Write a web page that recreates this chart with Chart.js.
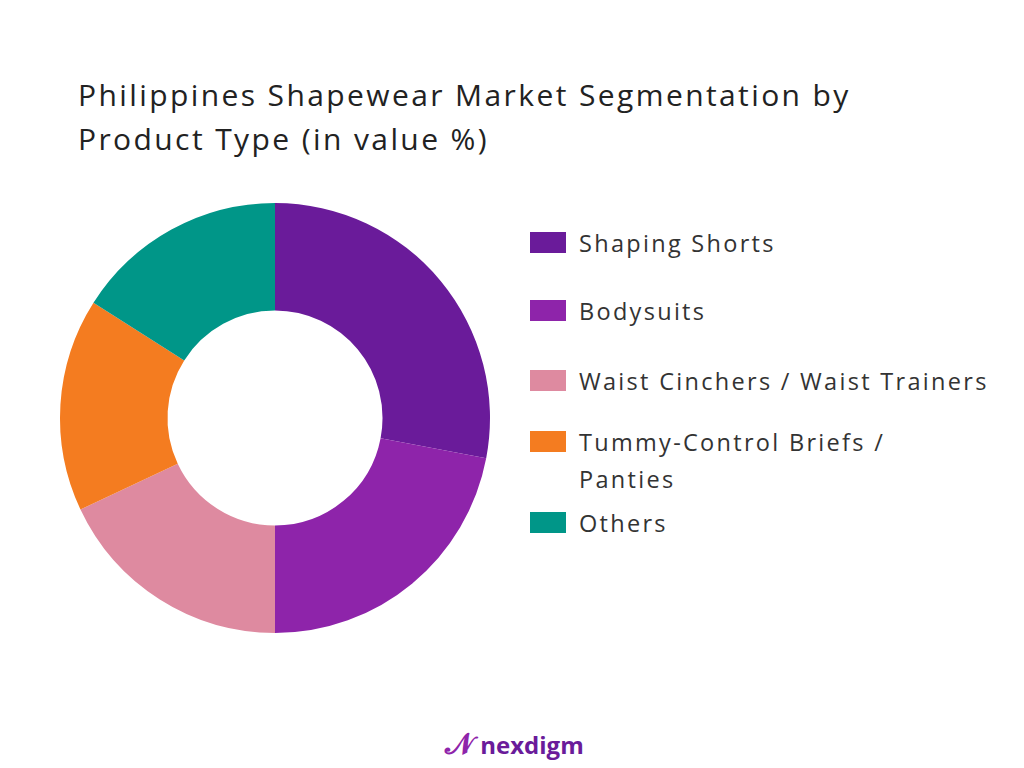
<!DOCTYPE html>
<html><head><meta charset="utf-8">
<script src="https://cdn.jsdelivr.net/npm/chart.js@4"></script>
<style>
body{margin:0;width:1024px;height:768px;background:#fff;font-family:"Open Sans",sans-serif;position:relative;overflow:hidden}
#title{position:absolute;left:78px;top:73px;font-size:30px;line-height:44px;color:#222;font-family:"Open Sans",sans-serif;letter-spacing:2.4px}
#cw{position:absolute;left:55px;top:198px;width:440px;height:440px}
.li{position:absolute;left:530px;display:flex;align-items:flex-start;font-size:23.5px;color:#333;font-family:"Open Sans",sans-serif;letter-spacing:2.3px}
.sw{width:36px;height:21px;margin-right:13px;margin-top:7px;flex:none}
#logo{position:absolute;left:445px;top:722px;font-size:24px;font-weight:bold;color:#6A1B9A;font-family:"Open Sans",sans-serif}
</style></head><body>
<div id="title">Philippines Shapewear Market Segmentation by<br>Product Type (in value %)</div>
<div id="cw"><canvas id="c"></canvas></div>
<div id="legend"></div>
<div id="logo"><span style="color:#8E24AA;font-size:30px">𝒩</span> nexdigm</div>
<script>
const categories=["Shaping Shorts","Bodysuits","Waist Cinchers / Waist Trainers","Tummy-Control Briefs / Panties","Others"];
const legendLines=[["Shaping Shorts"],["Bodysuits"],["Waist Cinchers / Waist Trainers"],["Tummy-Control Briefs /","Panties"],["Others"]];
const values=[28,22,18,16,16];
const colors=["#6A1B9A","#8E24AA","#DE8AA0","#F47C20","#009688"];
const lg=document.getElementById('legend');
const tops=[225,293,363,424,505];
legendLines.forEach((l,i)=>{const d=document.createElement('div');d.className='li';d.style.top=tops[i]+'px';d.innerHTML='<div class="sw" style="background:'+colors[i]+'"></div><div style="line-height:37px">'+l.join('<br>')+'</div>';lg.appendChild(d);});
new Chart(document.getElementById('c'),{type:'doughnut',data:{labels:categories,datasets:[{data:values,backgroundColor:colors,borderWidth:0}]},
options:{responsive:true,maintainAspectRatio:false,animation:false,cutout:'50%',layout:{padding:5},plugins:{legend:{display:false},tooltip:{enabled:false}}}});
</script></body></html>
